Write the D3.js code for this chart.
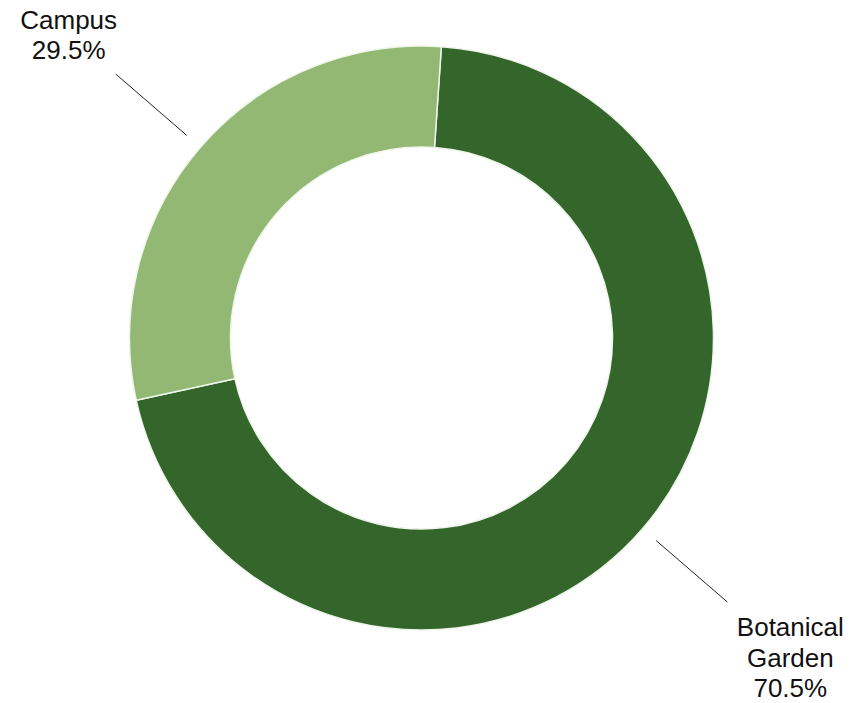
<!DOCTYPE html>
<html>
<head>
<meta charset="utf-8">
<script src="https://cdn.jsdelivr.net/npm/d3@7"></script>
<style>
  html, body { margin: 0; padding: 0; background: #ffffff; }
  svg { display: block; }
  text { font-family: "Liberation Sans", Arial, Helvetica, sans-serif; fill: #111; }
</style>
</head>
<body>
<svg id="chart" width="866" height="703"></svg>
<script>
// Share of observations by site
const categories = ["Botanical Garden", "Campus"];
const values = [70.5, 29.5];
const labelLines = [["Botanical", "Garden", "70.5%"], ["Campus", "29.5%"]];
const colors = ["#34652b", "#93b874"];

const width = 866, height = 703;
const cx = 421.5, cy = 338;
const outerR = 292, innerR = 191;
const startDeg = 3.9;

const svg = d3.select("#chart");
const g = svg.append("g").attr("transform", `translate(${cx},${cy})`);

const color = d3.scaleOrdinal().domain(categories).range(colors);

const start = startDeg * Math.PI / 180;
const pie = d3.pie()
  .sort(null)
  .value(d => d.value)
  .startAngle(start)
  .endAngle(start + 2 * Math.PI);

const data = categories.map((c, i) => ({ name: c, value: values[i], lines: labelLines[i] }));
const arcs = pie(data);

const arc = d3.arc().innerRadius(innerR).outerRadius(outerR);

g.selectAll("path.slice")
  .data(arcs)
  .join("path")
  .attr("class", "slice")
  .attr("d", arc)
  .attr("fill", d => color(d.data.name))
  .attr("stroke", "#eef5ea")
  .attr("stroke-width", 1.5)
  .attr("stroke-linejoin", "round");

// Leader lines and labels placed along each slice's middle angle
const polar = (a, r) => [Math.sin(a) * r, -Math.cos(a) * r];
const lineInner = 310, lineOuter = 404;
const fontSize = 26, lineH = 30.5;

arcs.forEach(d => {
  const mid = (d.startAngle + d.endAngle) / 2;
  const p0 = polar(mid, lineInner);
  const p1 = polar(mid, lineOuter);
  g.append("line")
    .attr("x1", p0[0]).attr("y1", p0[1])
    .attr("x2", p1[0]).attr("y2", p1[1])
    .attr("stroke", "#222")
    .attr("stroke-width", 1);

  const right = Math.sin(mid) > 0;
  const lines = d.data.lines;
  const tx = p1[0] + (right ? 63 : -47);
  // Right-hand label hangs below the line end, left-hand label sits above it
  const firstBaseline = right ? p1[1] + 34.5 : p1[1] - 15 - (lines.length - 1) * lineH;

  const t = g.append("text")
    .attr("text-anchor", "middle")
    .attr("font-size", fontSize);
  lines.forEach((s, i) => {
    t.append("tspan")
      .attr("x", tx)
      .attr("y", firstBaseline + i * lineH)
      .text(s);
  });
});
</script>
</body>
</html>
